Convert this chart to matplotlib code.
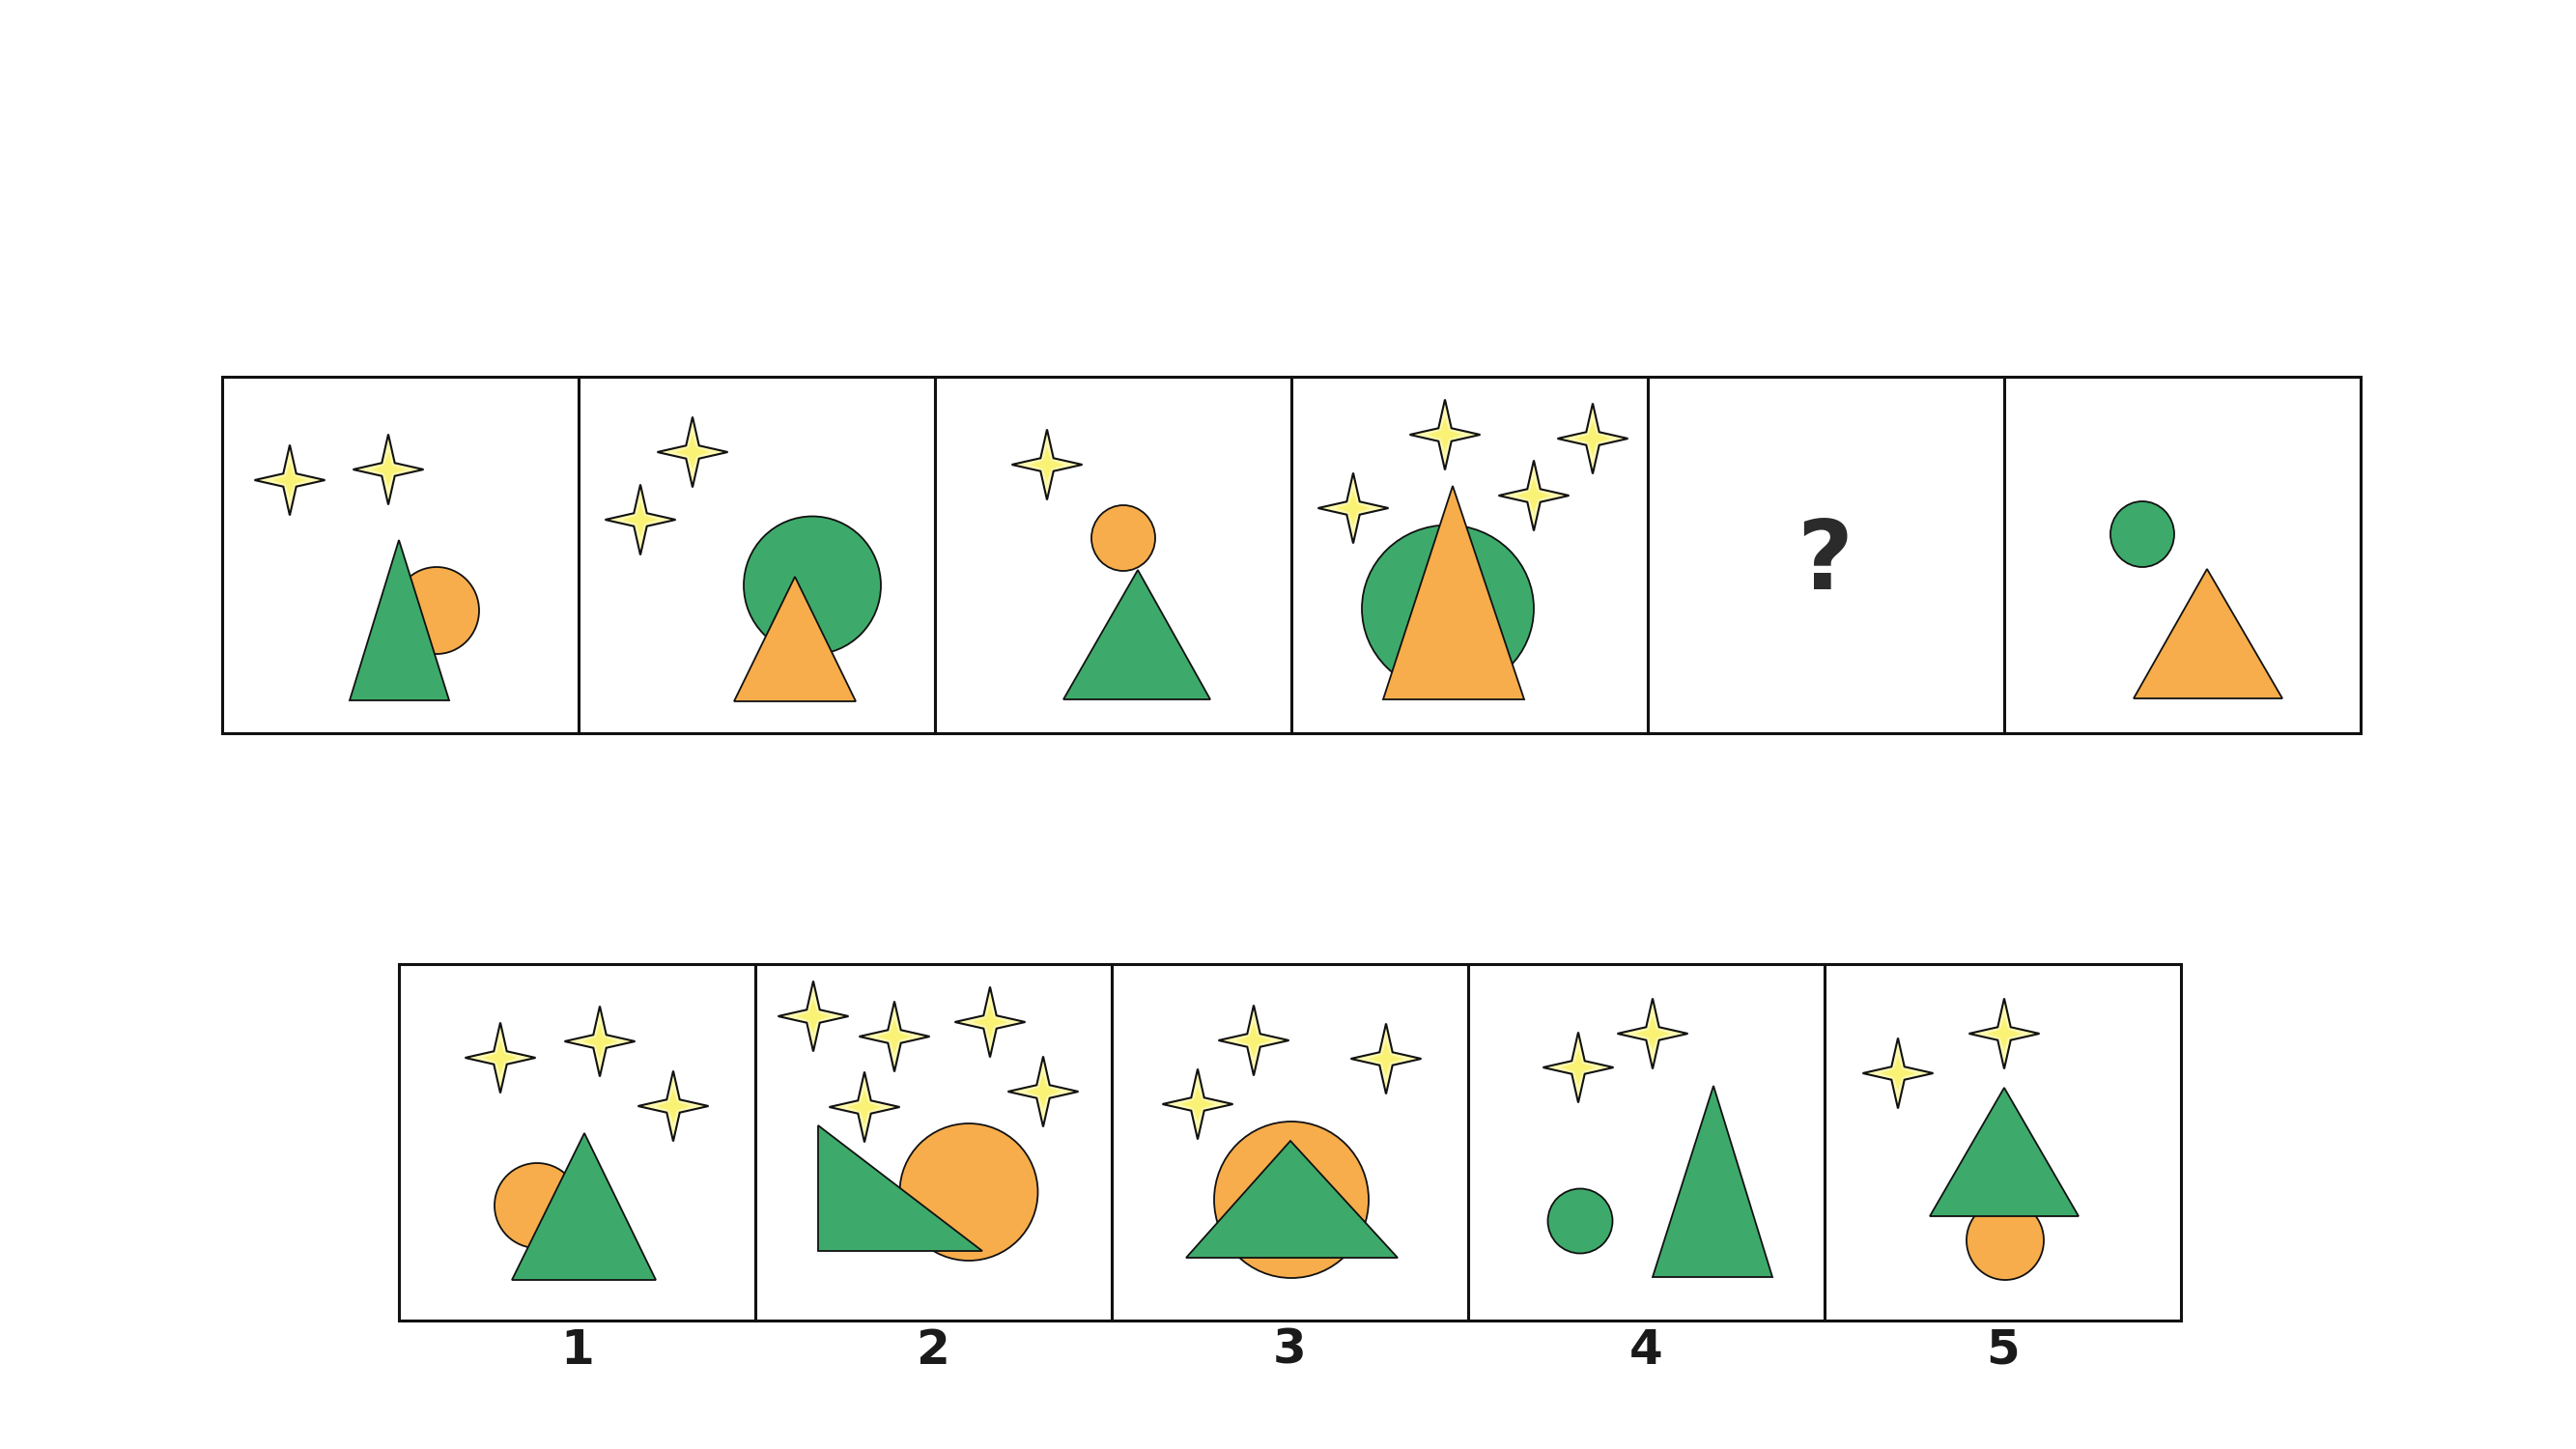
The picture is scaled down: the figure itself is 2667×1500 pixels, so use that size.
"""Figure-series puzzle: stars, circles and triangles in two rows of boxes"""
import numpy as np
import matplotlib
matplotlib.use("Agg")
import matplotlib.pyplot as plt
from matplotlib.patches import Ellipse, Polygon, Rectangle

_GREEN = "#3daa6b"
_ORANGE = "#f7ad4c"
_STAR_EDGE = "#fdf9b0"
_STAR_CORE = "#f9f274"
_LINE = "#111111"
_FONT = ["Liberation Sans Narrow", "DejaVu Sans Condensed", "DejaVu Sans"]
COLORS = {"green": _GREEN, "orange": _ORANGE}

# panel geometry (pixels of the 2667x1500 picture)
PANEL = 369.0
TOP_ORIGIN = (230, 390)
BOTTOM_ORIGIN = (413, 998)

# ---- top row: 6 boxes, local coords (x right, y down from box top-left) ----
top_stars = [
    [(70, 107), (172, 96)],
    [(118, 78), (64, 148)],
    [(116, 91)],
    [(159, 60), (312, 64), (64, 136), (251, 123)],
    [],
    [],
]
top_circles = [
    [(222, 242, 88, 90, "orange")],
    [(242, 216, 142, 143, "green")],
    [(195, 167, 66, 68, "orange")],
    [(162, 240, 178, 173, "green")],
    [],
    [(143, 163, 66, 68, "green")],
]
top_triangles = [
    [((132, 335), (235, 335), (183, 169), "green")],
    [((161, 336), (287, 336), (224, 207), "orange")],
    [((133, 334), (285, 334), (210, 200), "green")],
    [((95, 334), (241, 334), (167, 113), "orange")],
    [],
    [((134, 333), (288, 333), (210, 199), "orange")],
]
top_marks = ["", "", "", "", "?", ""]

# ---- bottom row: 5 answer boxes ----
bottom_stars = [
    [(105, 97), (208, 80), (284, 147)],
    [(60, 54), (144, 75), (243, 60), (113, 148), (298, 132)],
    [(147, 79), (284, 98), (89, 145)],
    [(114, 107), (191, 72)],
    [(76, 113), (186, 72)],
]
bottom_circles = [
    [(143, 250, 88, 88, "orange")],
    [(221, 236, 143, 142, "orange")],
    [(186, 244, 160, 162, "orange")],
    [(116, 266, 67, 67, "green")],
    [(187, 286, 80, 82, "orange")],
]
bottom_triangles = [
    [((117, 327), (266, 327), (192, 175), "green")],
    [((65, 167), (65, 297), (235, 297), "green")],
    [((77, 304), (296, 304), (185, 183), "green")],
    [((191, 324), (315, 324), (254, 126), "green")],
    [((109, 261), (263, 261), (186, 128), "green")],
]
bottom_labels = ["1", "2", "3", "4", "5"]


def star_points(cx, cy, outer, inner):
    ang = np.arange(8) * np.pi / 4
    rad = np.where(np.arange(8) % 2 == 0, outer, inner)
    return np.column_stack([cx + rad * np.cos(ang), cy + rad * np.sin(ang)])


def draw_panel(ax, x0, y0, stars, circles, triangles, mark=""):
    ax.add_patch(Rectangle((x0, y0), PANEL, PANEL, facecolor="white",
                           edgecolor=_LINE, linewidth=2.2, zorder=1))
    for cx, cy, w, h, col in circles:
        ax.add_patch(Ellipse((x0 + cx, y0 + cy), w, h, facecolor=COLORS[col],
                             edgecolor=_LINE, linewidth=1.3, zorder=2))
    for a, b, c, col in triangles:
        pts = [(x0 + a[0], y0 + a[1]), (x0 + b[0], y0 + b[1]),
               (x0 + c[0], y0 + c[1])]
        ax.add_patch(Polygon(pts, closed=True, facecolor=COLORS[col],
                             edgecolor=_LINE, linewidth=1.3, zorder=3))
    for sx, sy in stars:
        ax.add_patch(Polygon(star_points(x0 + sx, y0 + sy, 36.5, 9.5),
                             closed=True, facecolor=_STAR_EDGE,
                             edgecolor=_LINE, linewidth=1.5, zorder=4))
        ax.add_patch(Polygon(star_points(x0 + sx, y0 + sy, 18, 6),
                             closed=True, facecolor=_STAR_CORE,
                             edgecolor="none", zorder=5))
    if mark:
        ax.text(x0 + 183, y0 + 192, mark, ha="center", va="center",
                fontsize=72, fontweight="bold", color="#2b2b2b",
                family=_FONT, zorder=6)


fig = plt.figure(figsize=(26.67, 15), dpi=100, facecolor="white")
ax = fig.add_axes([0, 0, 1, 1])
ax.set_xlim(0, 2667)
ax.set_ylim(1500, 0)
ax.axis("off")

for i in range(6):
    draw_panel(ax, TOP_ORIGIN[0] + i * PANEL, TOP_ORIGIN[1],
               top_stars[i], top_circles[i], top_triangles[i], top_marks[i])

for i in range(5):
    x0 = BOTTOM_ORIGIN[0] + i * PANEL
    draw_panel(ax, x0, BOTTOM_ORIGIN[1],
               bottom_stars[i], bottom_circles[i], bottom_triangles[i])
    ax.text(x0 + PANEL / 2, BOTTOM_ORIGIN[1] + 400, bottom_labels[i],
            ha="center", va="center", fontsize=36, fontweight="bold",
            color="#1a1a1a", family=_FONT)

fig.savefig("out.png", dpi=100, facecolor="white")
